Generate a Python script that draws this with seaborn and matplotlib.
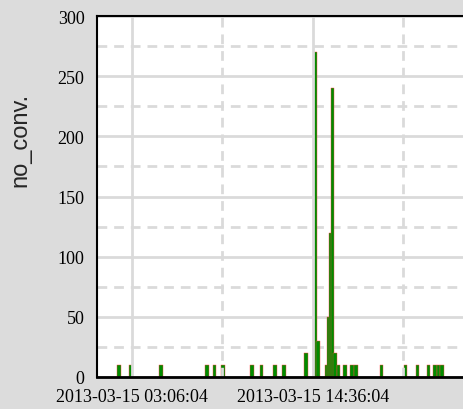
import numpy as np
import pandas as pd
import matplotlib
matplotlib.use("Agg")
import matplotlib.pyplot as plt
import seaborn as sns
from matplotlib.ticker import FixedLocator, MultipleLocator, FixedFormatter

# ---- data (time of day on 2013-03-15, count) ----
times = ["02:16", "03:01", "04:56", "07:51", "08:20", "08:53", "10:44", "11:20",
         "12:11", "12:46", "14:10", "14:45", "14:55", "15:28", "15:38", "15:44",
         "15:50", "16:00", "16:13", "16:38", "17:05", "17:20", "18:58", "20:29",
         "21:14", "21:56", "22:21", "22:34", "22:47"]
no_conv = [10, 10, 10, 10, 10, 10, 10, 10,
           10, 10, 20, 270, 30, 10, 50, 120,
           240, 20, 10, 10, 10, 10, 10, 10,
           10, 10, 10, 10, 10]
major_tick_times = ["03:06:04", "14:36:04"]
major_tick_labels = ["2013-03-15 03:06:04", "2013-03-15 14:36:04"]
minor_tick_times = ["08:51:04", "20:21:04"]
x_range = ["00:52:37", "24:08:00"]


def to_hours(s):
    parts = [float(p) for p in s.split(":")]
    while len(parts) < 3:
        parts.append(0.0)
    return parts[0] + parts[1] / 60 + parts[2] / 3600


df = pd.DataFrame({"hour": [to_hours(t) for t in times], "no_conv": no_conv})

sns.set_style("white")
fig = plt.figure(figsize=(4.63, 4.10), dpi=100, facecolor="#dcdcdc")
ax = fig.add_axes([97 / 463, 1 - 378 / 410, 1 - 97 / 463, (378 - 17) / 410])
ax.set_facecolor("white")

bar_w_hours = 0.23
sns.barplot(data=df, x="hour", y="no_conv", native_scale=True,
            color="#008c00", saturation=1,
            edgecolor="#ff4040", linewidth=0.3, errorbar=None, ax=ax)
# uniform bar width in hours
for p in ax.patches:
    c = p.get_x() + p.get_width() / 2
    p.set_width(bar_w_hours)
    p.set_x(c - bar_w_hours / 2)

ax.set_xlim(to_hours(x_range[0]), to_hours(x_range[1]))
ax.set_ylim(0, 300)

ax.xaxis.set_major_locator(FixedLocator([to_hours(t) for t in major_tick_times]))
ax.xaxis.set_major_formatter(FixedFormatter(major_tick_labels))
ax.xaxis.set_minor_locator(FixedLocator([to_hours(t) for t in minor_tick_times]))
ax.yaxis.set_major_locator(MultipleLocator(50))
ax.yaxis.set_minor_locator(MultipleLocator(25))

gcol = "#dadada"
ax.grid(True, which="major", color=gcol, linewidth=2, linestyle="-")
ax.grid(True, which="minor", color=gcol, linewidth=2, linestyle=(0, (3.5, 2.5)))
ax.xaxis.set_zorder(2.5)
ax.yaxis.set_zorder(0.5)

ax.tick_params(which="both", length=0)
ax.tick_params(axis="y", pad=9)
ax.tick_params(axis="x", pad=8)
for lab in ax.get_xticklabels() + ax.get_yticklabels():
    lab.set_fontfamily("Liberation Serif")
    lab.set_fontsize(13)
    lab.set_color("black")

ax.set_xlabel("")
ax.set_ylabel("no_conv.", fontsize=17, fontfamily="Liberation Sans")
ax.yaxis.set_label_coords((31 - 97) / 366, (378 - 140) / 361)

for side in ["left", "top", "bottom"]:
    ax.spines[side].set_visible(True)
    ax.spines[side].set_color("black")
    ax.spines[side].set_zorder(3)
ax.spines["left"].set_linewidth(1.5)
ax.spines["top"].set_linewidth(1.5)
ax.spines["bottom"].set_linewidth(2)
ax.spines["right"].set_visible(False)

fig.savefig("out.png", dpi=100, facecolor=fig.get_facecolor())
